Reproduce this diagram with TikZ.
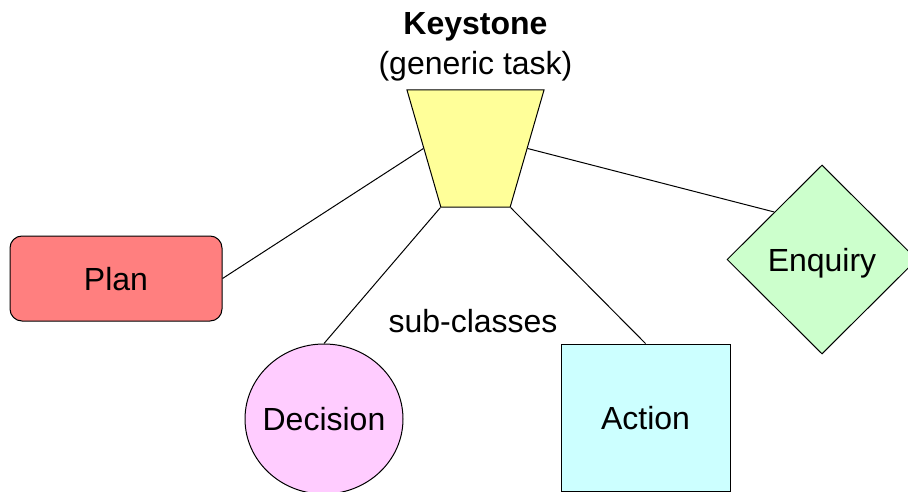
\documentclass[tikz,border=0pt]{standalone}
\usepackage{fontspec}
\setmainfont{Liberation Sans}
\usetikzlibrary{shapes.geometric,positioning}
\definecolor{keyyellow}{HTML}{FFFF99}
\definecolor{planred}{HTML}{FF7F7F}
\definecolor{decpink}{HTML}{FFCCFF}
\definecolor{actcyan}{HTML}{CCFFFF}
\definecolor{enqgreen}{HTML}{CCFFCC}
\begin{document}
\begin{tikzpicture}[x=1pt,y=-1pt,line width=1pt,
  every node/.style={font=\fontsize{32}{40}\selectfont,inner sep=0pt},
  subclass/.style={draw,line width=1pt,text depth=0pt}]
\useasboundingbox (0,0) rectangle (908,492);
\node[subclass,trapezium,trapezium left angle=64,trapezium right angle=64,
  shape border rotate=180,trapezium stretches=true,inner sep=1pt,
  minimum width=137pt,minimum height=117pt,fill=keyyellow] (keystone) at (475.5,148.5) {};
\node[above=8pt of keystone,align=center] (title) {\textbf{Keystone}\\(generic task)};
\node[subclass,rounded corners=12pt,minimum width=212pt,minimum height=85pt,fill=planred] (plan) at (116,278.5) {Plan};
\node[subclass,ellipse,inner xsep=-6pt,minimum width=158pt,minimum height=150pt,fill=decpink] (decision) at (324,419) {Decision};
\node[subclass,minimum width=169pt,minimum height=147pt,fill=actcyan] (action) at (645.5,417.5) {Action};
\node[subclass,diamond,minimum width=190pt,minimum height=189pt,fill=enqgreen] (enquiry) at (822,259.5) {Enquiry};
\node (subclasses) at (473,321) {sub-classes};
\draw (keystone.180) -- (plan.east);
\draw (keystone.top right corner) -- (decision.north);
\draw (keystone.top left corner) -- (action.north);
\draw (keystone.0) -- (enquiry.north west);
\end{tikzpicture}
\end{document}
